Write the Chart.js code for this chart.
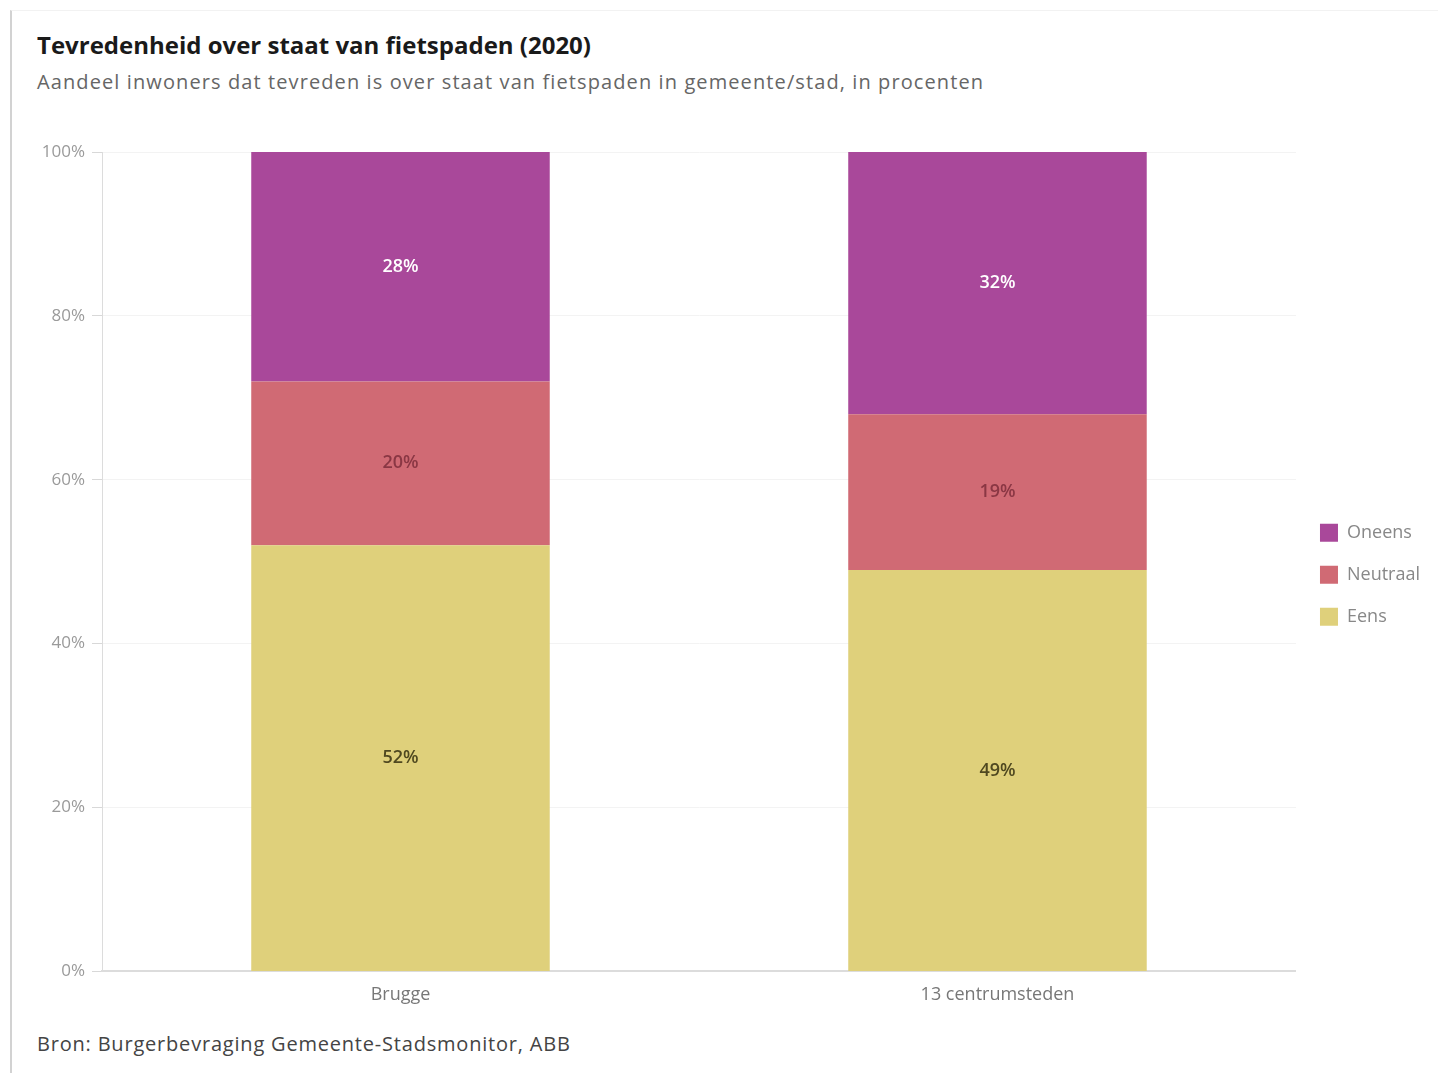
<!DOCTYPE html>
<html>
<head>
<meta charset="utf-8">
<script src="https://cdn.jsdelivr.net/npm/chart.js@4/dist/chart.umd.min.js"></script>
<style>
    html, body { margin: 0; padding: 0; background: #fff; }
    body { width: 1438px; height: 1073px; position: relative; overflow: hidden; font-family: 'Open Sans', sans-serif; }
    .frame { position: absolute; left: 10px; top: 10px; right: -5px; bottom: -5px; border-left: 2px solid #d2d2d2; border-top: 1px solid #f2f2f2; }
    .title { position: absolute; left: 37px; top: 29px; font-size: 24px; line-height: 32px; font-weight: 700; color: #1a1a1a; }
    .subtitle { position: absolute; left: 37px; top: 68px; font-size: 20px; line-height: 28px; letter-spacing: 1.1px; color: #666; }
    .source { position: absolute; left: 37px; top: 1030px; font-size: 20px; line-height: 28px; letter-spacing: 0.8px; color: #444; }
    .chart-box { position: absolute; left: 0; top: 120px; width: 1438px; height: 900px; }
</style>
</head>
<body>
<div class="frame"></div>
<div class="title">Tevredenheid over staat van fietspaden (2020)</div>
<div class="subtitle">Aandeel inwoners dat tevreden is over staat van fietspaden in gemeente/stad, in procenten</div>
<div class="chart-box"><canvas id="chart"></canvas></div>
<div class="source">Bron: Burgerbevraging Gemeente-Stadsmonitor, ABB</div>

<script>
// data
const categories = ['Brugge', '13 centrumsteden']
const eens = [52, 49]
const neutraal = [20, 19]
const oneens = [28, 32]
const yTicks = [0, 20, 40, 60, 80, 100]

const colors = {
    eens: '#dfd07b',
    neutraal: '#d06a74',
    oneens: '#a9489a'
}
const labelColors = {
    eens: '#4f4820',
    neutraal: '#8a3744',
    oneens: '#ffffff'
}

// writes the value in the middle of every bar segment
const segmentLabels = {
    id: 'segmentLabels',
    afterDatasetsDraw (chart) {
        const ctx = chart.ctx
        ctx.save()
        ctx.font = '600 18px "Open Sans"'
        ctx.textAlign = 'center'
        ctx.textBaseline = 'middle'
        chart.data.datasets.forEach((ds, i) => {
            const meta = chart.getDatasetMeta(i)
            meta.data.forEach((bar, j) => {
                const p = bar.getProps(['x', 'y', 'base'], true)
                ctx.fillStyle = ds.labelColor
                ctx.fillText(ds.data[j] + '%', p.x, (p.y + p.base) / 2)
            })
        })
        ctx.restore()
    }
}

new Chart(document.getElementById('chart'), {
    type: 'bar',
    data: {
        labels: categories,
        datasets: [
            { label: 'Eens', data: eens, backgroundColor: colors.eens, labelColor: labelColors.eens },
            { label: 'Neutraal', data: neutraal, backgroundColor: colors.neutraal, labelColor: labelColors.neutraal },
            { label: 'Oneens', data: oneens, backgroundColor: colors.oneens, labelColor: labelColors.oneens }
        ]
    },
    options: {
        responsive: true,
        maintainAspectRatio: false,
        animation: false,
        datasets: {
            bar: { categoryPercentage: 1, barPercentage: 0.5, borderWidth: 0 }
        },
        layout: { padding: { left: 0, right: 8, top: 32, bottom: 1 } },
        scales: {
            x: {
                stacked: true,
                grid: { display: false, drawTicks: false },
                border: { display: true, color: '#dcdcdc', width: 2 },
                ticks: { color: '#777', padding: 13, font: { family: 'Open Sans', size: 18 } }
            },
            y: {
                stacked: true,
                min: 0,
                max: 100,
                afterBuildTicks: scale => { scale.ticks = yTicks.map(v => ({ value: v })) },
                afterFit: scale => { scale.width = 102 },
                grid: { color: '#f3f3f3', tickColor: '#d8d8d8', tickLength: 10 },
                border: { display: true, color: '#dcdcdc', width: 1 },
                ticks: {
                    color: '#9a9a9a',
                    padding: 7,
                    font: { family: 'Open Sans', size: 17 },
                    callback: v => v + '%'
                }
            }
        },
        plugins: {
            legend: {
                position: 'right',
                fullSize: false,
                reverse: true,
                // empty title only pushes the items a little down
                title: { display: true, text: ' ', font: { size: 10 }, padding: { top: 7, bottom: 7 } },
                labels: {
                    boxWidth: 18,
                    boxHeight: 18,
                    padding: 24,
                    color: '#888',
                    font: { family: 'Open Sans', size: 18 }
                }
            },
            tooltip: { enabled: false }
        }
    },
    plugins: [segmentLabels]
})
</script>
</body>
</html>
